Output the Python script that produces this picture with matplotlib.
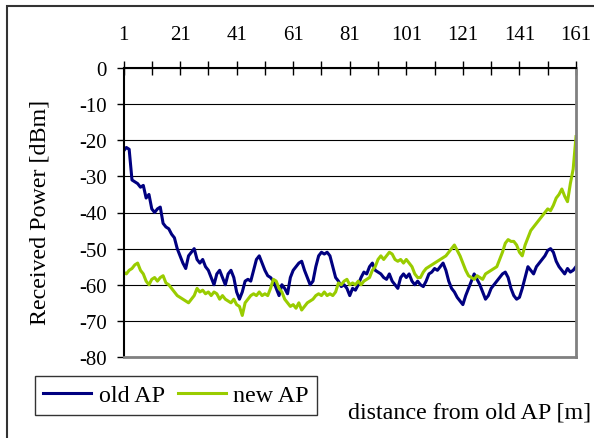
import numpy as np
import matplotlib
matplotlib.use("Agg")
import matplotlib.pyplot as plt
from matplotlib.patches import Rectangle

plt.rcParams["font.family"] = ["Liberation Serif", "DejaVu Serif"]
plt.rcParams["axes.unicode_minus"] = False

# distance index (1..161) and received power, in dBm
distance = np.arange(1, 162)

old_ap = [
    -23, -22, -22.5, -31, -31.5, -32, -33, -32.5, -36, -35,
    -39, -40, -39, -38.5, -43, -44, -44.5, -46, -47, -50,
    -52, -54, -55.5, -52, -51, -50, -53, -54, -53, -55,
    -56, -58, -60, -57, -56, -58, -60, -57, -56, -58,
    -62, -64, -62, -59, -58.5, -59, -56, -53, -52, -54,
    -56, -57.5, -58, -59, -61, -63, -60, -61, -62.5, -58,
    -56, -55, -54, -53.5, -56, -58, -60, -59, -55, -52,
    -51, -51.5, -51, -52, -55, -58, -59, -60.5, -60, -61,
    -63, -61, -61.5, -60, -58, -56.5, -57, -55, -54, -56,
    -56.5, -57, -58, -58.5, -57, -59, -60, -61, -58, -57,
    -58, -57, -59, -60, -59, -60, -60.5, -59, -57, -56.5,
    -55.5, -56, -55, -54, -56, -59, -61, -62, -63.5, -64.5,
    -65.5, -63, -61, -59, -57, -58.5, -60, -62, -64, -63,
    -61, -60, -59, -58, -57, -56.5, -58, -61, -63, -64,
    -63.5, -61, -58, -55, -56, -57, -55, -54, -53, -52,
    -50.5, -50, -51, -53.5, -55, -56, -57, -55.5, -56.5, -56,
    -55,
]

new_ap = [
    -56.5, -57, -56, -55.5, -54.5, -54, -56, -57, -59, -60,
    -58.5, -58, -59, -58, -57.5, -59.5, -60, -61, -62, -63,
    -63.5, -64, -64.5, -65, -64, -63, -61, -62, -61.5, -62.5,
    -62, -63, -62, -62.5, -64, -63, -64, -64.5, -65, -64,
    -65.5, -66, -68.5, -65, -64, -63, -62.5, -63, -62, -63,
    -62.5, -63, -61, -58.5, -59, -61, -62, -64, -65, -66,
    -65.5, -66.5, -65, -67, -66, -65, -64.5, -64, -63, -62.5,
    -63, -62, -63, -62.5, -63, -62, -59.5, -60, -59, -58.5,
    -60, -59.5, -60, -59, -60, -59, -58.5, -58, -56, -55,
    -53, -52, -53, -52, -51, -51.5, -53, -53.5, -53, -54,
    -53, -54, -55, -57, -58, -58, -56.5, -55.5, -55, -54.5,
    -54, -53.5, -53, -52.5, -52, -51, -50, -49, -50.5, -52,
    -54, -56, -57.5, -58, -58.5, -57.5, -58, -58.5, -57, -56.5,
    -56, -55.5, -55, -53, -51, -48.5, -47.5, -48, -48, -49,
    -51, -52, -49, -47, -45, -44, -43, -42, -41, -40,
    -39, -39.5, -38, -36, -35, -33.5, -35.5, -37, -32, -28,
    -19,
]

x_labels = [1, 21, 41, 61, 81, 101, 121, 141, 161]
y_ticks = [0, -10, -20, -30, -40, -50, -60, -70, -80]

fig = plt.figure(figsize=(5.94, 4.39), dpi=100)
ax = fig.add_axes([123.5 / 594, 1 - 358 / 439, (576 - 123.5) / 594, (358 - 69) / 439])

ax.plot(distance, old_ap, color="#000080", lw=2.2, label="old AP")
ax.plot(distance, new_ap, color="#99CC00", lw=2.2, label="new AP")

ax.set_xlim(1, 161)
ax.set_ylim(-80, 0)

# category axis sits at the top (y = 0), ticks crossing the line
ax.xaxis.tick_top()
ax.set_xticks(x_labels)
ax.set_xticks(np.arange(11, 161, 20), minor=True)
ax.tick_params(axis="x", which="both", direction="inout", length=10, width=1,
               labelsize=15, pad=12)
ax.set_yticks(y_ticks)
ax.tick_params(axis="y", direction="out", length=5, width=1, labelsize=15, pad=7)
ax.yaxis.grid(True, color="black", lw=0.8)
ax.set_axisbelow(True)

ax.spines["top"].set_linewidth(1.5)
ax.spines["left"].set_linewidth(1.5)
for s in ("right", "bottom"):
    ax.spines[s].set_color("#808080")
    ax.spines[s].set_linewidth(2)

ax.set_ylabel("Received Power [dBm]", fontsize=17.3)
ax.yaxis.set_label_coords(-0.162, 0.503)

fig.text(591 / 594, 1 - 413 / 439, "distance from old AP [m]", fontsize=17.3,
         ha="right", va="center")

leg = fig.legend(loc="upper left", bbox_to_anchor=(35 / 594, 1 - 377 / 439),
                 ncol=2, fontsize=17.3, frameon=True, fancybox=False,
                 edgecolor="black", borderaxespad=0, borderpad=0.35,
                 handlelength=2.0, handletextpad=0.3, columnspacing=0.55)
leg.get_frame().set_linewidth(1)

# outer chart border
fig.add_artist(Rectangle((7 / 594, -0.1), 1.2, 1 - 7 / 439 + 0.1,
                         transform=fig.transFigure, fill=False,
                         edgecolor="#333333", lw=1.5))

fig.savefig("out.png", dpi=100)
